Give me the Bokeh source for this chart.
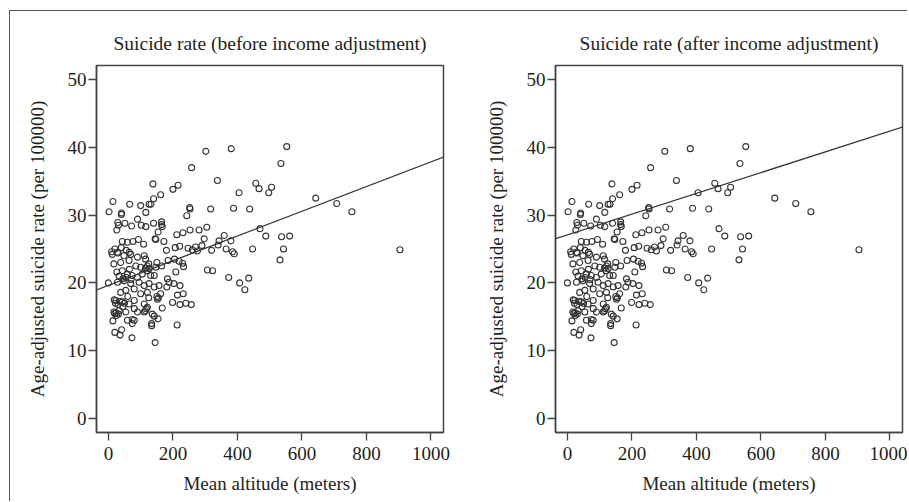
from bokeh.plotting import figure
from bokeh.layouts import row
from bokeh.models import Slope, FixedTicker, Range1d
from bokeh.embed import file_html
from bokeh.resources import INLINE

# Data (same districts in both panels)
altitude = [
    302, 381, 553, 535, 258, 138, 200, 216, 338, 457, 467, 506, 497, 405, 162, 140, 132, 14, 2, 40,
    41, 66, 100, 116, 126, 252, 253, 243, 317, 388, 438, 29, 31, 51, 72, 90, 102, 116, 140, 165,
    167, 165, 26, 154, 212, 231, 253, 281, 305, 470, 488, 537, 562, 43, 59, 76, 93, 109, 147, 172,
    221, 247, 297, 343, 359, 380, 447, 543, 385, 276, 708, 755, 643, 904, 145, 180, 207, 260, 270, 290,
    320, 340, 365, 390, 10, 20, 30, 40, 55, 65, 150, 165, 115, 125,
    12, 28, 48, 69, 90, 111, 17, 38, 64, 85, 100, 121, 126, 147, 142, 26, 43, 59, 74, 90,
    105, 131, 157, 28, 48, 69, 95, 111, 126, 142, 38, 54, 80, 100, 121, 162, 23, 43, 64, 80,
    111, 121, 152, 17, 33, 54, 80, 90, 111, 136, 59, 80,
    532, 307, 323, 373, 407, 435, 423, 213, 145, 73, 20, 41, 36, 14, 31, 24, 74, 74, 134, 134,
    154, 142, 167, 199, 222, 240, 257, 214, 232, 222, 203, 183, 188, 181, 209, 230, 233, 219, 185, 205,
    0,
    18, 22, 30, 35, 45, 50, 25, 20, 60, 45, 55, 33, 65, 70, 115, 120, 118, 115, 125, 150, 155,
]
suicide_rate = [
    39.4, 39.8, 40.1, 37.6, 37.0, 34.6, 33.8, 34.4, 35.1, 34.7, 33.9, 34.1, 33.3, 33.3, 33.0, 32.4, 31.6, 32.0, 30.5, 30.1,
    30.3, 31.6, 31.4, 30.4, 31.6, 31.1, 30.9, 29.9, 30.9, 31.0, 30.9, 28.9, 28.5, 28.8, 28.4, 29.4, 28.5, 28.3, 28.8, 29.0,
    28.3, 28.6, 27.8, 27.5, 27.1, 27.4, 27.8, 27.8, 28.2, 28.0, 26.9, 26.8, 26.9, 26.1, 26.0, 26.1, 26.4, 25.7, 26.4, 26.1,
    25.4, 25.1, 26.5, 26.2, 27.0, 26.2, 25.0, 25.0, 24.6, 24.7, 31.7, 30.5, 32.5, 24.9, 26.5, 24.8, 25.2, 24.9, 25.3, 25.5,
    24.8, 25.6, 25.0, 24.3, 24.6, 25.0, 24.4, 25.2, 24.8, 24.5, 23.0, 22.5, 23.5, 22.8,
    24.2, 24.5, 24.0, 24.2, 23.8, 24.0, 22.8, 23.0, 23.3, 22.5, 22.3, 22.5, 22.1, 22.3, 21.1, 21.6, 21.8, 21.3, 21.1, 20.8,
    21.3, 21.1, 19.6, 20.1, 20.3, 19.9, 20.1, 19.6, 19.9, 19.4, 18.6, 18.9, 19.1, 18.4, 18.6, 18.4, 17.4, 17.2, 16.9, 17.4,
    16.9, 16.4, 17.6, 15.7, 15.9, 15.7, 16.2, 15.7, 15.7, 15.4, 14.5, 14.5,
    23.4, 21.9, 21.8, 20.8, 20.0, 20.7, 19.0, 13.8, 11.2, 11.9, 12.7, 13.1, 12.3, 14.4, 15.4, 15.6, 14.6, 14.0, 14.0, 13.7,
    14.7, 15.1, 16.3, 17.1, 16.8, 17.0, 16.8, 18.2, 18.4, 19.6, 19.9, 20.6, 20.1, 19.4, 21.6, 22.9, 22.4, 23.2, 23.3, 23.5,
    20.0,
    17.5, 17.0, 16.8, 17.3, 16.5, 17.0, 15.2, 15.5, 18.0, 20.6, 20.8, 21.0, 22.0, 20.5, 22.2, 21.8, 16.2, 15.9, 17.8, 18.0, 17.8,
]

panel_titles = ["Suicide rate (before income adjustment)", "Suicide rate (after income adjustment)"]
fit_intercepts = [19.64, 27.08]
fit_slopes = [0.0182, 0.0153]
x_ticks = [0, 200, 400, 600, 800, 1000]
y_ticks = [0, 10, 20, 30, 40, 50]

FONT = "Liberation Serif"
TEXT = "#231f20"
FRAME = "#444444"


def make_panel(title, slope, intercept, width, mb_left, mb_right):
    p = figure(width=width, height=490,
               x_range=Range1d(-37, 1039), y_range=Range1d(-2.06, 52.06),
               output_backend="svg", toolbar_location=None,
               min_border_left=mb_left, min_border_right=mb_right,
               min_border_top=54, min_border_bottom=69, title=title)
    p.title.align = "center"
    p.title.text_font = FONT
    p.title.text_font_size = "19.5px"
    p.title.text_font_style = "normal"
    p.title.text_color = TEXT
    p.title.standoff = 23
    p.grid.visible = False
    p.outline_line_color = FRAME
    p.outline_line_width = 1.5
    p.background_fill_color = "white"
    p.border_fill_color = "white"

    p.xaxis.ticker = FixedTicker(ticks=x_ticks)
    p.yaxis.ticker = FixedTicker(ticks=y_ticks)
    for ax in (p.xaxis[0], p.yaxis[0]):
        ax.axis_line_color = FRAME
        ax.axis_line_width = 1.5
        ax.major_tick_line_color = FRAME
        ax.major_tick_line_width = 1.3
        ax.major_tick_out = 8
        ax.major_tick_in = 0
        ax.minor_tick_line_color = None
        ax.major_label_text_font = FONT
        ax.major_label_text_font_size = "19px"
        ax.major_label_text_color = TEXT
        ax.axis_label_text_font = FONT
        ax.axis_label_text_font_size = "19px"
        ax.axis_label_text_font_style = "normal"
        ax.axis_label_text_color = TEXT
    p.xaxis.axis_label = "Mean altitude (meters)"
    p.yaxis.axis_label = "Age-adjusted suicide rate (per 100000)"
    p.xaxis.major_label_standoff = 6
    p.yaxis.major_label_standoff = 2
    p.xaxis.axis_label_standoff = 10
    p.yaxis.axis_label_standoff = 17

    p.scatter(altitude, suicide_rate, marker="circle", size=6,
              fill_color=None, line_color="#333333", line_width=1.1)
    p.add_layout(Slope(gradient=slope, y_intercept=intercept,
                       line_color="#333333", line_width=1.3))
    return p


p1 = make_panel(panel_titles[0], fit_slopes[0], fit_intercepts[0], 445, 86, 12)
p2 = make_panel(panel_titles[1], fit_slopes[1], fit_intercepts[1], 452, 100, 5)

layout = row(p1, p2, styles={"border-top": "1px solid #555555",
                             "border-left": "1px solid #555555",
                             "margin-left": "9px", "margin-top": "10px"})

open("out.html", "w").write(file_html(layout, INLINE))
